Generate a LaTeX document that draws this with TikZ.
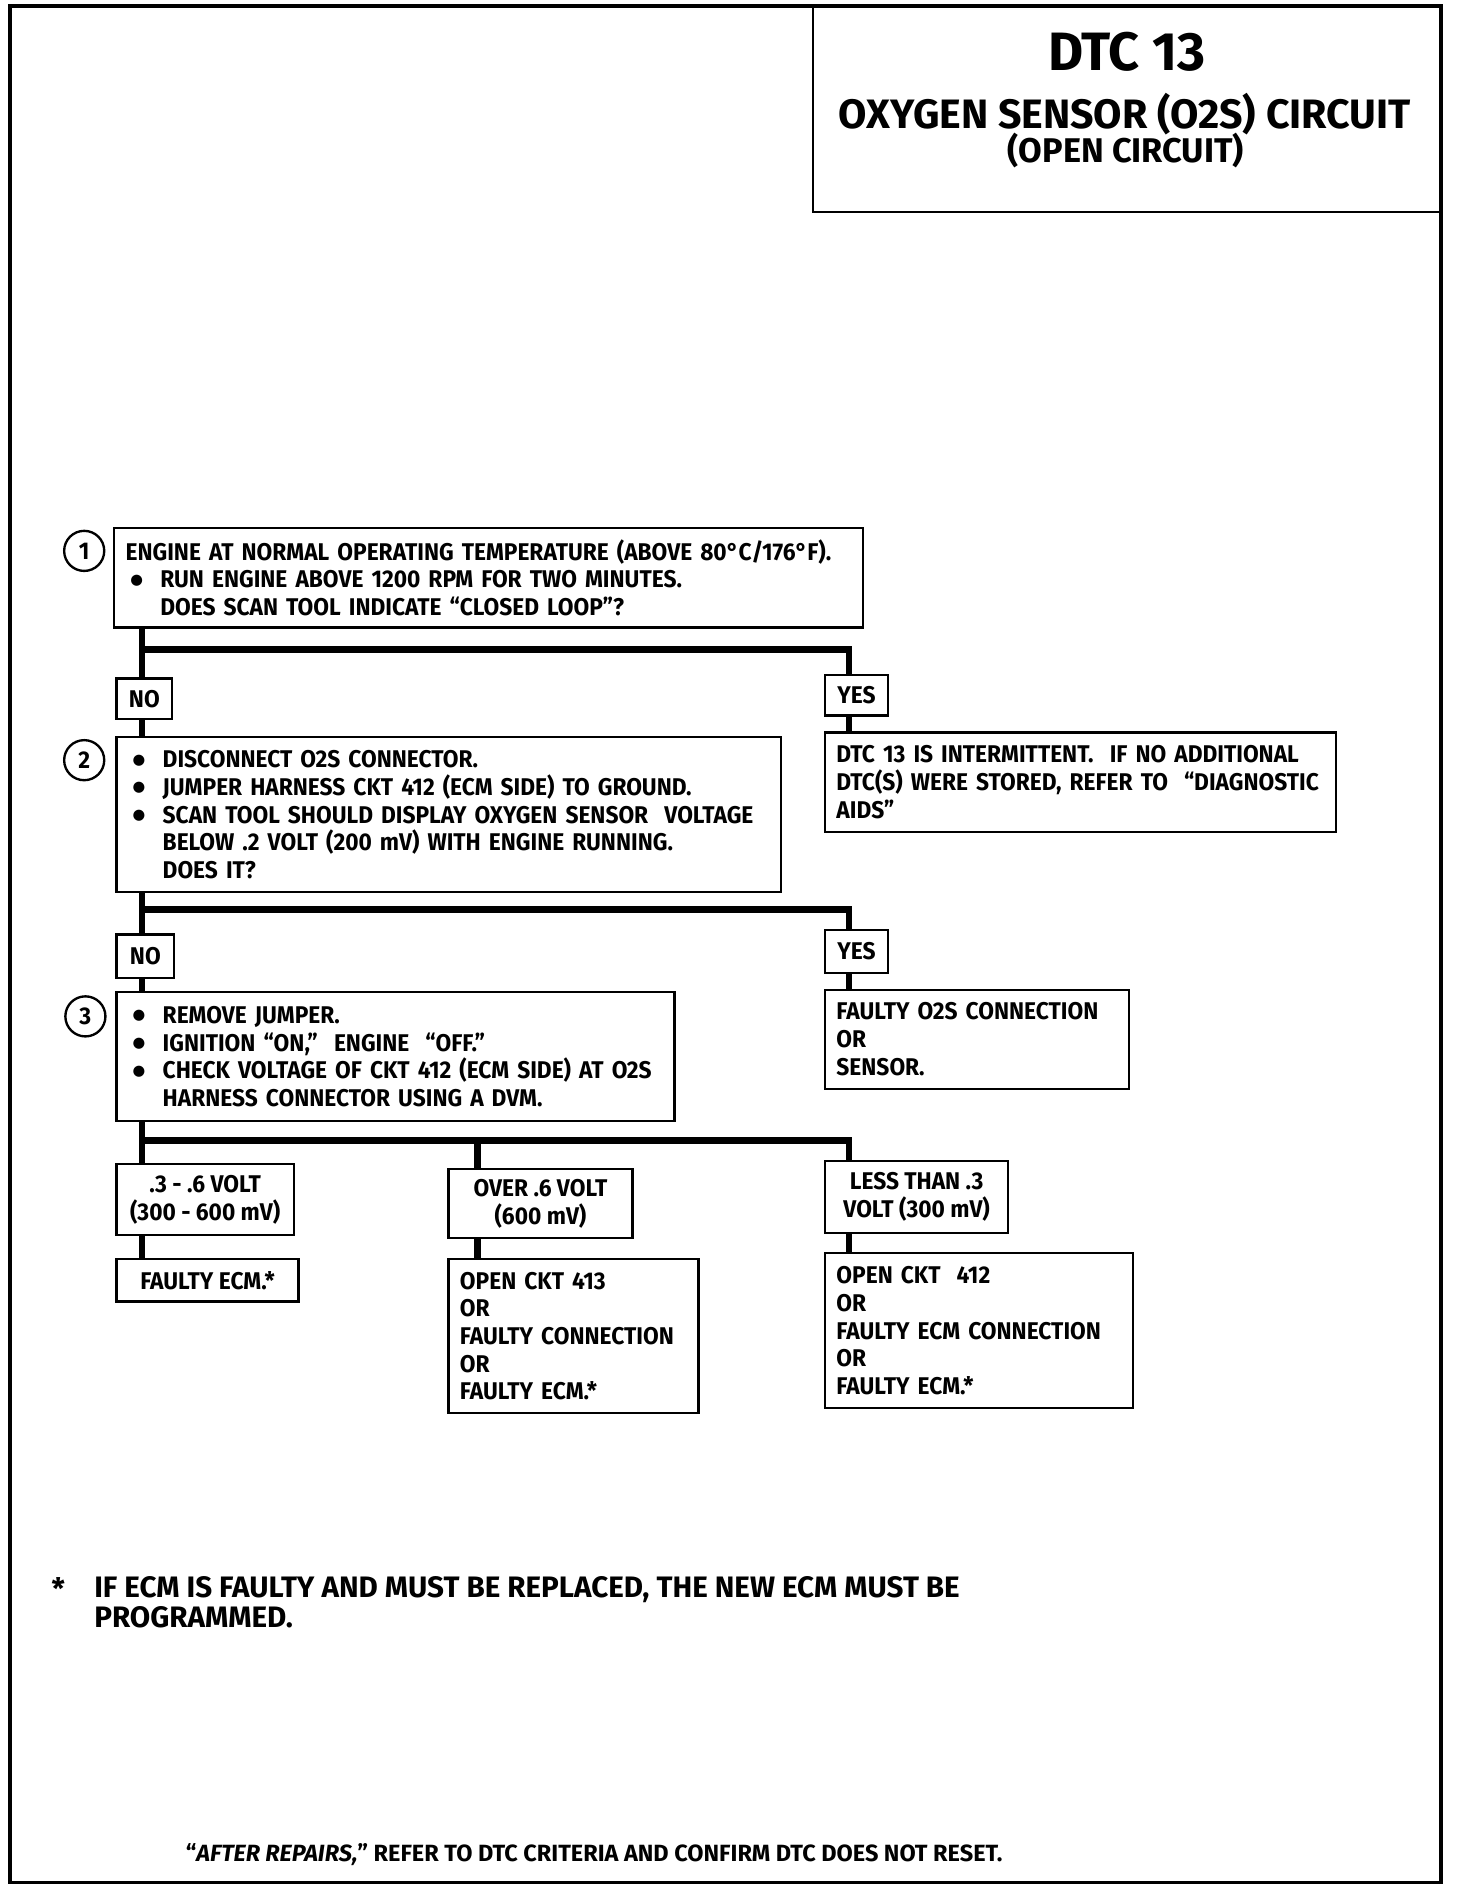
\documentclass[tikz,border=0pt]{standalone}
\usepackage{fontspec}
\setmainfont{Fira Sans}[FakeStretch=0.94]
\newfontfamily\plainfam{Fira Sans}[Ligatures=TeX]
\newfontfamily\symfam{DejaVu Sans}
\newcommand\bodyfont{\bfseries\fontsize{10.3}{11.8}\selectfont}
\newcommand\blt{\makebox[0.52cm][l]{\hspace{0.07cm}\raisebox{1.6pt}{\symfam\fontsize{6.2}{6.2}\selectfont ●}}}
\newcommand\ind{\hspace*{0.52cm}}

\begin{document}
\begin{tikzpicture}[x=0.018cm, y=-0.018cm,
    box/.style={draw, line width=1pt, anchor=north west, align=left,
        inner xsep=0.17cm, inner ysep=0pt, font=\bodyfont},
    tag/.style={draw, line width=1pt, anchor=north west, align=center,
        inner sep=0pt, font=\bodyfont},
    link/.style={line width=2.8pt},
    num/.style={draw, circle, line width=1pt, minimum size=0.6cm,
        inner sep=0pt, font=\bodyfont}]
    \useasboundingbox (0,0) rectangle (1211,1568);
    % frame and title block
    \draw[line width=1.6pt] (8,5) rectangle (1198,1565);
    \draw[line width=1pt] (676,5) |- (1198,176);
    \node[font=\plainfam\bfseries\fontsize{23}{27}\selectfont] (dtc) at (937,43) {DTC 13};
    \node[font=\plainfam\bfseries\fontsize{17.5}{21}\selectfont] (name) at (935,95) {OXYGEN SENSOR (O2S) CIRCUIT};
    \node[font=\plainfam\bfseries\fontsize{14.6}{17}\selectfont] (sub) at (936,125) {(OPEN CIRCUIT)};
    % columns and branch bars
    \coordinate (colL) at (118,0);
    \coordinate (colM) at (397,0);
    \coordinate (colR) at (706,0);
    \coordinate (bar1) at (0,540);
    \coordinate (bar2) at (0,756);
    \coordinate (bar3) at (0,948);
    % step 1
    \node[num] (n1) at (70,458) {1};
    \node[box, text width=10.87cm, minimum height=1.49cm] (step1) at (94,438)
        {ENGINE AT NORMAL OPERATING TEMPERATURE (ABOVE 80°C/176°F).\\
         \blt RUN ENGINE ABOVE 1200 RPM FOR TWO MINUTES.\\
         \ind DOES SCAN TOOL INDICATE ``CLOSED LOOP''?};
    \node[tag, minimum width=0.83cm, minimum height=0.61cm] (no1) at (96,563) {NO};
    \node[tag, minimum width=0.94cm, minimum height=0.61cm] (yes1) at (685,560) {YES};
    \node[box, text width=7.31cm, minimum height=1.49cm] (res1) at (685,608)
        {DTC 13 IS INTERMITTENT.~ IF NO ADDITIONAL\\
         DTC(S) WERE STORED, REFER TO~ ``DIAGNOSTIC\\
         AIDS''};
    % step 2
    \node[num] (n2) at (70,632) {2};
    \node[box, text width=9.6cm, minimum height=2.32cm] (step2) at (96,612)
        {\blt DISCONNECT O2S CONNECTOR.\\
         \blt JUMPER HARNESS CKT 412 (ECM SIDE) TO GROUND.\\
         \blt SCAN TOOL SHOULD DISPLAY OXYGEN SENSOR~ VOLTAGE\\
         \ind BELOW .2 VOLT (200 mV) WITH ENGINE RUNNING.\\
         \ind DOES IT?};
    \node[tag, minimum width=0.86cm, minimum height=0.65cm] (no2) at (96,776) {NO};
    \node[tag, minimum width=0.94cm, minimum height=0.65cm] (yes2) at (685,772) {YES};
    \node[box, text width=4.21cm, minimum height=1.48cm] (res2) at (685,822)
        {FAULTY O2S CONNECTION\\ OR\\ SENSOR.};
    % step 3
    \node[num] (n3) at (71,845) {3};
    \node[box, text width=8.01cm, minimum height=1.93cm] (step3) at (96,824)
        {\blt REMOVE JUMPER.\\
         \blt IGNITION ``ON,''~ ENGINE~ ``OFF.''\\
         \blt CHECK VOLTAGE OF CKT 412 (ECM SIDE) AT O2S\\
         \ind HARNESS CONNECTOR USING A DVM.};
    \node[tag, minimum width=2.65cm, minimum height=1.06cm] (volta) at (96,967) {.3 - .6 VOLT\\ (300 - 600 mV)};
    \node[tag, minimum width=2.75cm, minimum height=1.03cm] (voltb) at (372,971) {OVER .6 VOLT\\ (600 mV)};
    \node[tag, minimum width=2.74cm, minimum height=1.08cm] (voltc) at (685,964) {LESS THAN .3\\ VOLT (300 mV)};
    \node[tag, minimum width=2.72cm, minimum height=0.63cm] (outa) at (96,1046) {FAULTY ECM.*};
    \node[box, text width=3.40cm, minimum height=2.30cm] (outb) at (372,1046)
        {OPEN CKT 413\\ OR\\ FAULTY CONNECTION\\ OR\\ FAULTY ECM.*};
    \node[box, text width=4.27cm, minimum height=2.32cm] (outc) at (685,1041)
        {OPEN CKT~ 412\\ OR\\ FAULTY ECM CONNECTION\\ OR\\ FAULTY ECM.*};
    % connectors
    \draw[link] (step1.south -| colL) -- (no1.north -| colL);
    \draw[link] (bar1 -| colL) -| (yes1.north -| colR);
    \draw[link] (no1.south -| colL) -- (step2.north -| colL);
    \draw[link] (yes1.south -| colR) -- (res1.north -| colR);
    \draw[link] (step2.south -| colL) -- (no2.north -| colL);
    \draw[link] (bar2 -| colL) -| (yes2.north -| colR);
    \draw[link] (no2.south -| colL) -- (step3.north -| colL);
    \draw[link] (yes2.south -| colR) -- (res2.north -| colR);
    \draw[link] (step3.south -| colL) -- (volta.north -| colL);
    \draw[link] (bar3 -| colL) -| (voltc.north -| colR);
    \draw[link] (bar3 -| colM) -- (voltb.north -| colM);
    \draw[link] (volta.south -| colL) -- (outa.north -| colL);
    \draw[link] (voltb.south -| colM) -- (outb.north -| colM);
    \draw[link] (voltc.south -| colR) -- (outc.north -| colR);
    % footnote
    \node[anchor=west, font=\plainfam\bfseries\fontsize{12.6}{12.8}\selectfont] (star) at (36,1321) {*};
    \node[anchor=west, align=left, inner sep=0pt, font=\plainfam\bfseries\fontsize{12.6}{12.8}\selectfont] (note) at (78,1332)
        {IF ECM IS FAULTY AND MUST BE REPLACED, THE NEW ECM MUST BE\\ PROGRAMMED.};
    \node[font=\plainfam\bfseries\fontsize{10}{12}\selectfont] (after) at (494,1542)
        {``\textit{AFTER REPAIRS,}'' REFER TO DTC CRITERIA AND CONFIRM DTC DOES NOT RESET.};
\end{tikzpicture}
\end{document}
